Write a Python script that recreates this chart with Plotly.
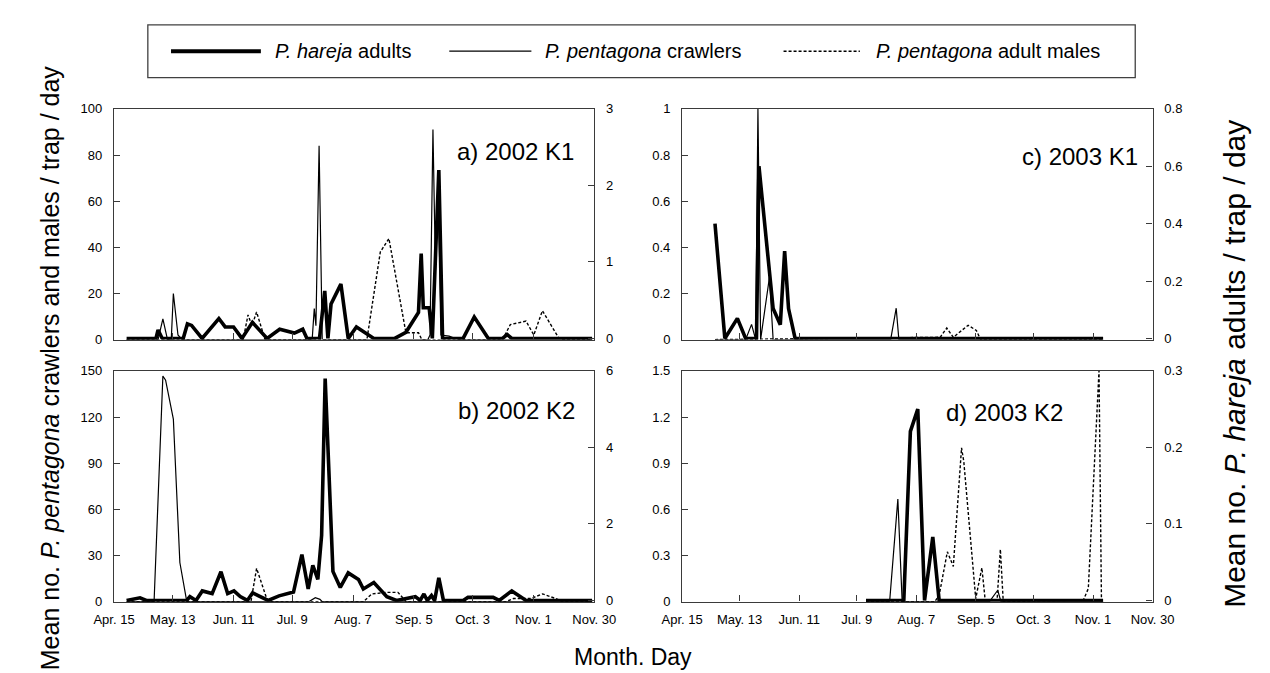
import plotly.graph_objects as go

# ---------------- data (day of year, mean no. / trap / day) ----------------
# x-axis tick dates
tick_days = [105, 133, 162, 190, 219, 248, 276, 305, 334]
tick_labels = ["Apr. 15", "May. 13", "Jun. 11", "Jul. 9", "Aug. 7", "Sep. 5", "Oct. 3", "Nov. 1", "Nov. 30"]

# a) 2002 K1
a_hareja_day = [111, 125, 126, 128, 138, 140, 142, 147, 155, 158, 162, 166, 171, 178, 184, 191, 195, 197, 203, 205.5,
                207, 208.5, 213.2, 216.7, 220.6, 228.9, 238.9, 244.2, 250.2, 251.5, 252.5, 255.3, 256.8, 259.9, 261.7,
                271.5, 276.8, 283.5, 290.3, 292.5, 294.7, 333]
a_hareja = [0, 0, 0.11, 0, 0, 0.19, 0.17, 0, 0.26, 0.15, 0.15, 0, 0.21, 0, 0.12, 0.07, 0.12, 0, 0, 0.62,
            0, 0.45, 0.71, 0, 0.15, 0, 0, 0.08, 0.34, 1.11, 0.4, 0.4, 0, 2.2, 0,
            0, 0.28, 0, 0, 0.05, 0, 0]
a_crawler_day = [111, 126, 128.3, 130.5, 132.3, 133.3, 135.5, 137.4, 199.5, 200.5, 201.3, 202.8, 204.3, 254.7, 255.7,
                 257.1, 258.3, 259.5, 260.9, 264.8, 267.8, 270, 333]
a_crawler = [0, 0, 9, 0, 0, 20, 2, 0, 0, 13.5, 6, 84, 0, 0, 2, 91, 30, 65, 2, 1.5, 0.5, 0, 0]
a_male_day = [111, 166.6, 168.9, 170.8, 173, 177, 225.6, 232, 236.1, 244.2, 250.2, 251.8, 290.3, 294, 301.5,
              305.2, 309.3, 317.1, 318.7, 333]
a_male = [0, 0, 10.7, 6, 12, 0, 0, 38, 43.8, 3, 3, 0, 0, 6.5, 8, 2, 12.5, 0.7, 0, 0]

# b) 2002 K2
b_hareja_day = [111, 117.4, 120.4, 139.7, 141.2, 144.1, 147.1, 151.8, 156, 159.2, 162.2, 165.2, 168.6, 171.1, 174,
                178.5, 183.7, 190.6, 194.6, 197.6, 199.8, 202.2, 204, 205.7, 209.4, 212.9, 216.7, 221.6, 223.9,
                228.9, 235.1, 239.7, 248.7, 251, 252.8, 254.4, 256.4, 257.9, 259.9, 262.1, 271.5, 273.8, 285.8,
                288.7, 294.7, 301.5, 333]
b_hareja = [0, 0.07, 0, 0, 0.1, 0, 0.25, 0.18, 0.75, 0.18, 0.25, 0.1, 0, 0.2, 0.12,
            0, 0.12, 0.22, 1.2, 0.3, 0.92, 0.55, 1.7, 5.8, 0.76, 0.34, 0.72, 0.55, 0.3,
            0.47, 0.1, 0, 0.1, 0, 0.17, 0, 0.13, 0, 0.59, 0, 0, 0.08, 0.08,
            0, 0.25, 0, 0]
b_crawler_day = [111, 124.1, 128.3, 129.6, 133.3, 136.4, 139.7, 198, 201, 203.2, 204.3, 333]
b_crawler = [0, 0, 146.7, 144, 118.7, 25.4, 0, 0, 2.5, 1.5, 0, 0]
b_male_day = [111, 170.3, 173, 177.8, 179.2, 223.9, 228, 235.1, 240.4, 244.3, 292, 295.5, 303.7, 309.4, 315.7,
              318.7, 333]
b_male = [0, 0, 21.6, 2, 0, 0, 5, 6, 6, 0, 0, 2, 2, 5, 2, 0, 0]

# c) 2003 K1
c_hareja_day = [121, 125.8, 131.9, 135.9, 141.2, 142.4, 149.3, 152.8, 154.9, 156.8, 160, 309.9]
c_hareja = [0.4, 0, 0.07, 0, 0, 0.6, 0.104, 0.048, 0.304, 0.104, 0, 0]
c_crawler_day = [121, 135.9, 138.8, 140.8, 141.9, 143.2, 147.5, 149.3, 206.5, 209.2, 210.5, 309.9]
c_crawler = [0, 0, 0.066, 0, 1.0, 0, 0.27, 0, 0, 0.136, 0, 0]
c_male_day = [121, 230.6, 233.8, 237, 244.2, 248.2, 250.3, 309.9]
c_male = [0, 0.01, 0.05, 0.01, 0.062, 0.04, 0, 0]

# d) 2003 K2
d_hareja_day = [194.5, 212.9, 216.1, 219.7, 223, 227, 230.1, 309.9]
d_hareja = [0, 0, 0.221, 0.25, 0, 0.083, 0, 0]
d_crawler_day = [194.5, 206, 210, 212.1, 254.6, 258.6, 260.2, 309.9]
d_crawler = [0, 0, 0.667, 0, 0, 0.074, 0, 0]
d_male_day = [194.5, 228, 230.1, 234.1, 237, 241, 242.1, 247.9, 250.9, 252.5, 258.3, 259.9, 261.3, 300.3, 302.7,
              307.9, 309.1]
d_male = [0, 0, 0.04, 0.324, 0.229, 1.0, 0.91, 0.02, 0.22, 0.01, 0.01, 0.34, 0, 0.01, 0.085, 1.5, 0]

panel_titles = ["a) 2002 K1", "b) 2002 K2", "c) 2003 K1", "d) 2003 K2"]
left_ranges = [(100, 20), (150, 30), (1, 0.2), (1.5, 0.3)]
right_ranges = [(3, 1), (6, 2), (0.8, 0.2), (0.3, 0.1)]

# ---------------- layout geometry ----------------
W, H = 1270, 673
FONT = "Liberation Sans, Arial, sans-serif"


def px(x):
    return x / W


def py(y):
    return 1 - y / H


panels = [
    dict(x=(88, 585), y=(96, 332), data=(a_hareja_day, a_hareja, a_crawler_day, a_crawler, a_male_day, a_male),
         labels=False, title_xy=(566, 140)),
    dict(x=(88, 585), y=(364, 600), data=(b_hareja_day, b_hareja, b_crawler_day, b_crawler, b_male_day, b_male),
         labels=True, title_xy=(567, 405)),
    dict(x=(676, 1163), y=(96, 332), data=(c_hareja_day, c_hareja, c_crawler_day, c_crawler, c_male_day, c_male),
         labels=False, title_xy=(1150, 145)),
    dict(x=(676, 1163), y=(364, 600), data=(d_hareja_day, d_hareja, d_crawler_day, d_crawler, d_male_day, d_male),
         labels=True, title_xy=(1072, 407)),
]

fig = go.Figure()
layout = dict(
    width=W, height=H, margin=dict(l=0, r=0, t=0, b=0),
    paper_bgcolor="white", plot_bgcolor="white", showlegend=False,
    font=dict(family=FONT, color="black", size=13),
)
annotations = []
axis_line = "#3a3a3a"

for i, p in enumerate(panels):
    xi = i + 1
    yl = 2 * i + 1
    yr = 2 * i + 2
    xname = "xaxis" if xi == 1 else f"xaxis{xi}"
    xref = "x" if xi == 1 else f"x{xi}"
    ylname = "yaxis" if yl == 1 else f"yaxis{yl}"
    ylref = "y" if yl == 1 else f"y{yl}"
    yrname = f"yaxis{yr}"
    yrref = f"y{yr}"
    xdom = [px(p["x"][0]), px(p["x"][1])]
    ydom = [py(p["y"][1]), py(p["y"][0])]
    plot_h = p["y"][1] - p["y"][0]
    layout[xname] = dict(
        domain=xdom, anchor=ylref, range=[105, 334], tickmode="array",
        tickvals=tick_days, ticktext=tick_labels, showticklabels=p["labels"],
        ticks="inside", ticklen=6, tickcolor=axis_line, showline=True, linecolor=axis_line, linewidth=1.3,
        mirror=True, showgrid=False, zeroline=False, ticklabelstandoff=6,
        tickfont=dict(size=13, family=FONT),
    )
    lmax, ldt = left_ranges[i]
    rmax, rdt = right_ranges[i]
    layout[ylname] = dict(
        domain=ydom, anchor=xref, range=[0, lmax], dtick=ldt, tick0=0,
        ticks="inside", ticklen=6, tickcolor=axis_line, showline=True, linecolor=axis_line, linewidth=1.3,
        showgrid=False, zeroline=False, ticklabelstandoff=8, tickfont=dict(size=13, family=FONT),
    )
    # tiny lower pad so the thick zero baseline is not half-clipped by the plot edge
    rpad = rmax * 1.2 / plot_h
    layout[yrname] = dict(
        domain=ydom, anchor=xref, overlaying=ylref, side="right", range=[-rpad, rmax], dtick=rdt, tick0=0,
        ticks="inside", ticklen=6, tickcolor=axis_line, showline=True, linecolor=axis_line, linewidth=1.3,
        showgrid=False, zeroline=False, ticklabelstandoff=8, tickfont=dict(size=13, family=FONT),
    )
    hd, hv, cd, cv, md, mv = p["data"]
    fig.add_trace(go.Scatter(x=md, y=mv, mode="lines", xaxis=xref, yaxis=ylref,
                             line=dict(color="black", width=1.4, dash="3px,2px"),
                             name="P. pentagona adult males"))
    fig.add_trace(go.Scatter(x=cd, y=cv, mode="lines", xaxis=xref, yaxis=ylref,
                             line=dict(color="black", width=1.2), name="P. pentagona crawlers"))
    fig.add_trace(go.Scatter(x=hd, y=hv, mode="lines", xaxis=xref, yaxis=yrref,
                             line=dict(color="black", width=3.6), name="P. hareja adults"))
    tx, ty = p["title_xy"]
    annotations.append(dict(text=panel_titles[i], x=px(tx), y=py(ty), xref="paper", yref="paper",
                            xanchor="right", yanchor="middle", showarrow=False,
                            font=dict(size=24, family=FONT, color="black")))

# axis titles
annotations.append(dict(text="Mean no. <i>P. pentagona</i> crawlers and males / trap / day",
                        x=px(22), y=py(361), xref="paper", yref="paper", textangle=-90,
                        xanchor="center", yanchor="middle", showarrow=False,
                        font=dict(size=25, family=FONT, color="black")))
annotations.append(dict(text="Mean no. <i>P. hareja</i> adults / trap / day",
                        x=px(1247), y=py(357), xref="paper", yref="paper", textangle=-90,
                        xanchor="center", yanchor="middle", showarrow=False,
                        font=dict(size=30, family=FONT, color="black")))
annotations.append(dict(text="Month. Day", x=px(625), y=py(657), xref="paper", yref="paper",
                        xanchor="center", yanchor="middle", showarrow=False,
                        font=dict(size=23, family=FONT, color="black")))

# legend (drawn as a framed key)
legend_y = 37
shapes = [
    dict(type="rect", xref="paper", yref="paper", x0=px(123), x1=px(1145), y0=py(64), y1=py(10),
         line=dict(color="#404040", width=1.3), fillcolor="white"),
    dict(type="line", xref="paper", yref="paper", x0=px(147), x1=px(240), y0=py(legend_y), y1=py(legend_y),
         line=dict(color="black", width=4)),
    dict(type="line", xref="paper", yref="paper", x0=px(435), x1=px(520), y0=py(legend_y), y1=py(legend_y),
         line=dict(color="black", width=1.3)),
    dict(type="line", xref="paper", yref="paper", x0=px(781), x1=px(860), y0=py(legend_y), y1=py(legend_y),
         line=dict(color="black", width=1.4, dash="3px,2px")),
]
legend_items = [(253, "<i>P. hareja</i> adults"), (532, "<i>P. pentagona</i> crawlers"),
                (875, "<i>P. pentagona</i> adult males")]
for lx, lt in legend_items:
    annotations.append(dict(text=lt, x=px(lx), y=py(legend_y), xref="paper", yref="paper",
                            xanchor="left", yanchor="middle", showarrow=False,
                            font=dict(size=20, family=FONT, color="black")))

layout["annotations"] = annotations
layout["shapes"] = shapes
fig.update_layout(**layout)
fig.write_html("out.html")
